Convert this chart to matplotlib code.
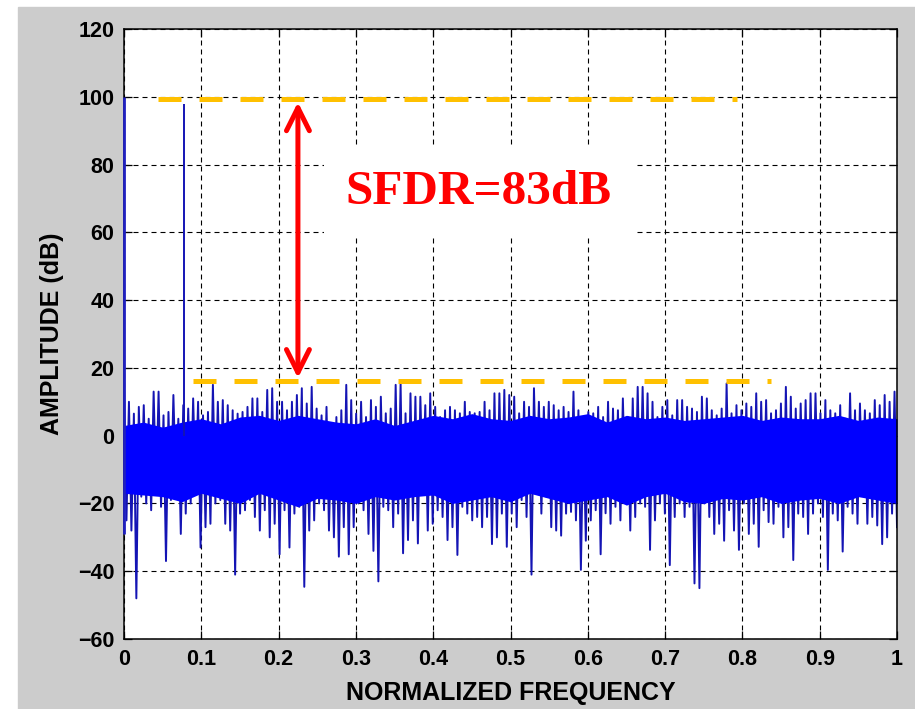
import numpy as np
import matplotlib.pyplot as plt
from matplotlib.patches import Rectangle

# Spectrum readings (dB), noise floor stored as alternating peak / trough per column
noise_peaks = [
    13, 10, 6.5, 8.5, 9, 5, 13, 13, 6, 7, 12, 5, 9, 8, 11, 10, 6, 7,
    15, 10, 10.5, 9, 7.5, 6.5, 7, 8.5, 11, 11, 7, 13.5, 14, 10, 10, 7.5, 10, 12, 14, 9.5,
    14.4, 8, 6, 8.5, 3, 5.5, 7.5, 15, 10.5, 6.5, 10, 5.5, 10.5, 8.5, 11.5, 6.6, 8, 15, 15.5,
    6.6, 12.5, 11.5, 11.5, 9, 12.5, 8.5, 5.5, 7.5, 8.5, 7.5, 6.6, 10, 7, 6.6, 7, 10, 7.5, 12.5, 12.5,
    13.5, 12, 11.5, 6.6, 10, 8.5, 14, 10, 8.5, 10, 9, 7.5, 8.5, 7, 13, 7.5, 2, 7, 6.6, 8.5,
    5.5, 10, 8, 7.5, 11, 5.5, 11, 14.4, 14.4, 12.5, 10, 5.5, 8.5, 10.5, 6, 10.5, 10.5, 8.5, 8, 7,
    11.5, 11, 7.5, 6, 8, 15.4, 6.6, 9, 7.5, 9.5, 8.5, 12.5, 10, 10.5, 6.6, 7.5, 9.5, 14.4, 11.5,
    8, 9.5, 10.5, 12.5, 12.5, 6.6, 10.5, 7.5, 6.6, 9, 5, 12.5, 7.5, 9.5, 7.5, 6.6, 10.5, 9, 12, 10, 13,
]
noise_troughs = [
    -25, -28, -48, -18, -20, -22, -17, -21, -37, -19, -15, -29, -23, -20, -16, -33, -27, -26,
    -20, -19, -26, -28, -41, -23, -22, -19, -24, -28, -22, -30, -26, -35, -22, -33, -23, -21, -44.6, -28,
    -25, -20, -22, -28, -30, -35.7, -27, -35, -27, -20, -22, -29, -34, -43, -21, -22, -27, -23, -34.7,
    -30.8, -25, -31.8, -16, -28, -26, -22, -24, -30.8, -27, -35.2, -21, -23, -25, -24, -27, -24, -32, -30, -23,
    -32.8, -23, -27, -19, -24, -41, -17, -23, -18, -27, -28, -29.5, -23, -22.5, -25, -39.6, -31, -25, -22, -35,
    -22.9, -26, -21, -25, -18, -28, -24, -20, -21, -33.7, -25, -20, -23, -38.2, -24, -20, -24, -21, -43.6, -45,
    -20, -24, -29, -26, -31, -22, -28, -33.7, -20, -29, -26, -32.8, -22, -25.5, -26, -21, -30, -27, -36.7,
    -23, -24, -29, -23, -20, -24, -39.6, -23, -25, -34.2, -21, -23, -26, -17.5, -26, -24, -26.5, -32, -30, -23, -27,
]

# edges of the dense part of the noise floor, every 0.025
band_top = [3, 4, 2.5, 4, 5, 3.5, 5.5, 6, 4.5, 6, 5, 4, 3.5, 5, 3, 4.5, 6, 5, 6.5, 5, 4.5,
            6, 5, 5.5, 6.5, 4, 6, 5, 5.5, 4.5, 5, 5.5, 6, 4.5, 5.5, 5, 5, 6, 4.5, 5.5, 5]
band_bottom = [-17, -17.5, -18, -19.5, -17, -18.5, -20, -17, -19, -21, -18.5, -19, -20, -18,
               -19, -18, -17.5, -20, -19, -18, -19.5, -17, -18.5, -20, -19, -18, -20.5, -18,
               -17, -19.5, -20, -18.5, -19, -18, -20, -19, -18.5, -20, -18, -19, -20]

dc_db, dc_floor_db = 100, -29
tone_freq, tone_db = 0.0776, 97.8
carrier_db = 99.2
sfdr_db = 83
spur_db = carrier_db - sfdr_db

xticks = [0, 0.1, 0.2, 0.3, 0.4, 0.5, 0.6, 0.7, 0.8, 0.9, 1.0]
xtick_labels = ['0', '0.1', '0.2', '0.3', '0.4', '0.5', '0.6', '0.7', '0.8', '0.9', '1']
yticks = [-60, -40, -20, 0, 20, 40, 60, 80, 100, 120]

fig = plt.figure(figsize=(9.15, 7.09), dpi=100)
fig.patches.append(Rectangle((18 / 915, 0), 897 / 915, 702 / 709,
                             transform=fig.transFigure, color='#cccccc', zorder=-10))
ax = fig.add_axes([124 / 915, 70 / 709, 773 / 915, 610 / 709])

# zigzag through peaks and troughs
n = len(noise_peaks)
zz = np.empty(2 * n)
zz[0::2] = noise_peaks
zz[1::2] = noise_troughs
fz = np.linspace(0, 1, 2 * n)
ax.plot(fz, zz, color='#1414b4', lw=1.4, zorder=2)
band_freq = np.linspace(0, 1, len(band_top))
ax.fill_between(band_freq, band_bottom, band_top, color='#0000ff', lw=0, zorder=2.2)
ax.vlines(tone_freq, 0, tone_db, color='#1414b4', lw=1.4, zorder=2.3)
ax.vlines(0, dc_floor_db, dc_db, color='#2020c0', lw=2.0, zorder=3, clip_on=False)

# carrier and worst spur levels
orange = '#ffc000'
ax.plot([0.044, 0.793], [carrier_db, carrier_db], color=orange, lw=3.6,
        linestyle=(0, (4.6, 3.6)), zorder=4)
ax.plot([0.089, 0.837], [spur_db, spur_db], color=orange, lw=3.6,
        linestyle=(0, (4.6, 3.6)), zorder=4)

ax.annotate('', xy=(0.225, carrier_db - 0.8), xytext=(0.225, spur_db + 0.8),
            arrowprops=dict(arrowstyle='<->,head_length=1.1,head_width=0.55',
                            color='#ff0000', lw=3.6, shrinkA=0, shrinkB=0,
                            mutation_scale=15), zorder=5)
ax.text(0.459, 72, f'SFDR={sfdr_db}dB', color='#ff0000', fontsize=35.5,
        fontweight='bold', family='Liberation Serif', ha='center', va='center',
        zorder=5, bbox=dict(facecolor='white', edgecolor='none',
                            boxstyle='square,pad=0.45'))

ax.set_xlim(0, 1)
ax.set_ylim(-60, 120)
ax.set_xticks(xticks)
ax.set_xticklabels(xtick_labels)
ax.set_yticks(yticks)
ax.set_axisbelow(True)
ax.grid(True, color='k', linestyle=(0, (4.5, 3.6)), linewidth=0.8)
ax.tick_params(direction='in', top=True, right=True, length=6, width=0.9,
               labelsize=15.5, pad=7)
for lab in ax.get_xticklabels() + ax.get_yticklabels():
    lab.set_fontweight('bold')
    lab.set_family('Liberation Sans')
for sp in ax.spines.values():
    sp.set_linewidth(1.1)

ax.set_xlabel('NORMALIZED FREQUENCY', fontsize=18, fontweight='bold',
              family='Liberation Sans', labelpad=8)
ax.set_ylabel('AMPLITUDE (dB)', fontsize=18, fontweight='bold',
              family='Liberation Sans', labelpad=10)

fig.savefig('out.png', dpi=100)
